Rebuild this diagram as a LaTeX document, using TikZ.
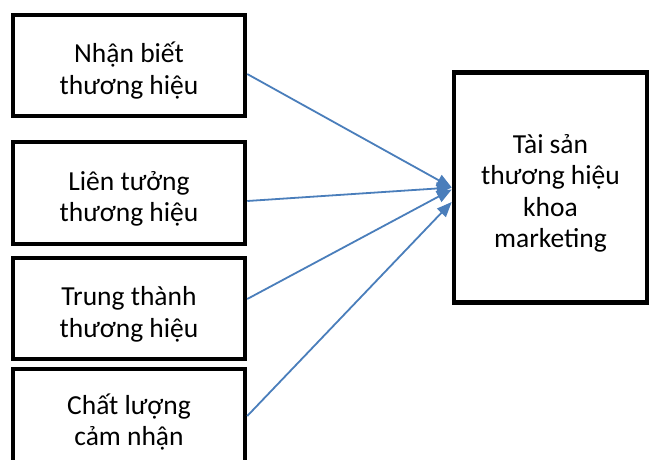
\documentclass[tikz,border=0pt]{standalone}
\usepackage{fontspec}
\setmainfont{Carlito}
\usetikzlibrary{arrows.meta,calc}
\definecolor{arrowblue}{RGB}{74,126,187}
\newcommand{\tallstrut}{\rule{0pt}{31pt}}
\begin{document}
\begin{tikzpicture}[x=1pt,y=-1pt,
  box/.style={draw=black,line width=4.5pt,fill=white,inner sep=0pt,align=center,
    font=\fontsize{27.5}{31.5}\selectfont},
  conn/.style={draw=arrowblue,line width=1.8pt,-{Triangle[length=15pt,width=12pt]}}]
\useasboundingbox[fill=white] (0,0) rectangle (649,459);
\node[box,minimum width=232pt,minimum height=101pt] (b1) at (129,65.5) {\tallstrut Nhận biết\\thương hiệu};
\node[box,minimum width=232pt,minimum height=102pt] (b2) at (129,193) {\tallstrut Liên tưởng\\thương hiệu};
\node[box,minimum width=232pt,minimum height=101pt] (b3) at (129,308.5) {\tallstrut Trung thành\\thương hiệu};
\node[box,minimum width=232pt,minimum height=96pt] (b4) at (129,417) {\tallstrut Chất lượng\\cảm nhận};
\node[box,minimum width=193pt,minimum height=230pt] (rb) at (550.5,187.5) {\tallstrut Tài sản\\thương hiệu\\khoa\\marketing};
\draw[conn] ([yshift=-8.5pt]b1.east) -- (rb.west);
\draw[conn] ([yshift=-8pt]b2.east) -- (rb.west);
\draw[conn] ([yshift=9.5pt]b3.east) -- ([yshift=-2pt]rb.west);
\draw[conn] ([yshift=1pt]b4.east) -- ([yshift=-14.5pt]rb.west);
\end{tikzpicture}
\end{document}
